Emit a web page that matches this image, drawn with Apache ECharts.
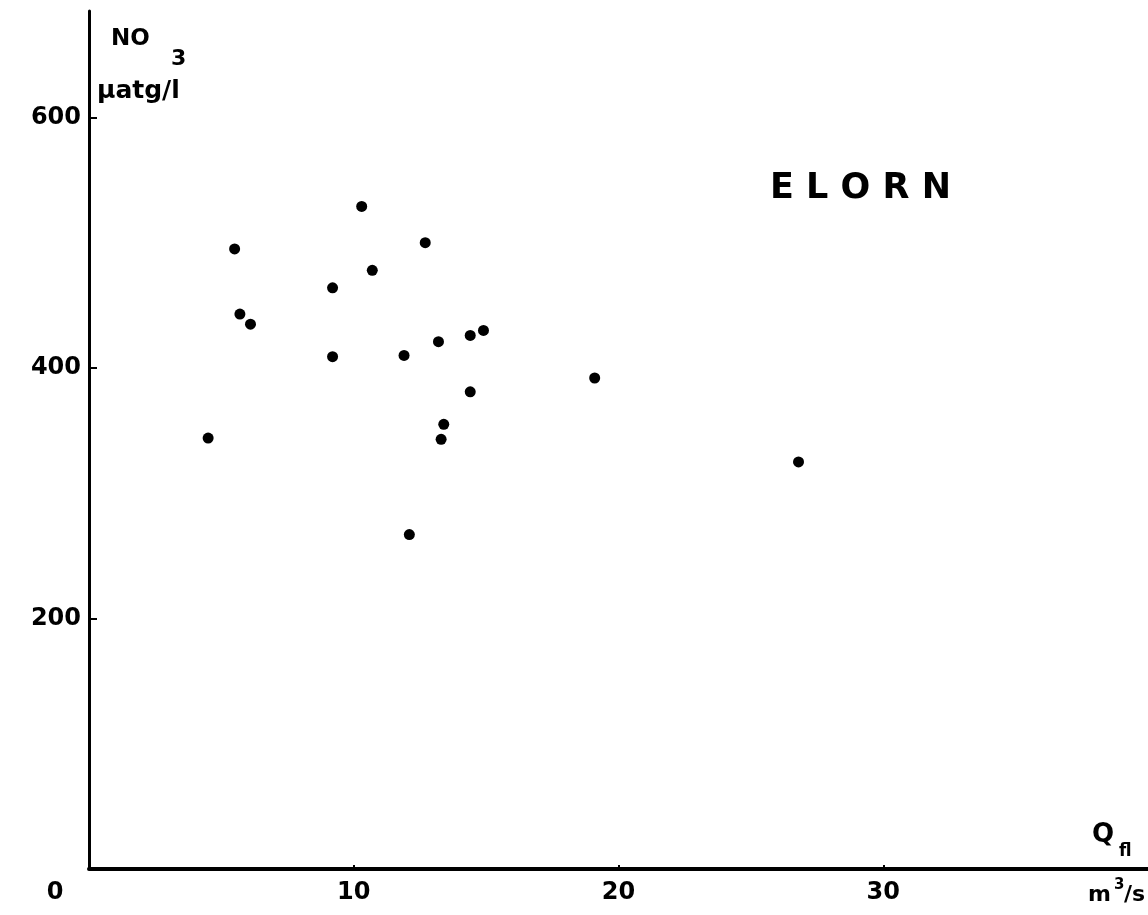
<!DOCTYPE html>
<html>
<head>
<meta charset="utf-8">
<title>ELORN NO3</title>
<script src="https://cdn.jsdelivr.net/npm/echarts@6/dist/echarts.min.js"></script>
<style>
  html, body { margin: 0; padding: 0; background: #fff; }
  #main { width: 1148px; height: 915px; }
</style>
</head>
<body>
<div id="main"></div>
<script>
// débit fluvial Q (m3/s) et NO3 (µatg/l)
var flowQ   = [5.5, 12.7, 10.7, 9.2, 5.7, 6.1, 9.2, 11.9, 13.2, 14.4, 14.9, 14.4, 13.4, 13.3, 4.5, 10.3, 19.1, 26.8, 12.1];
var nitrate = [495, 500, 478, 464, 443, 435, 409, 410, 421, 426, 430, 381, 355, 343, 344, 529, 392, 325, 267];

var xTicks = [0, 10, 20, 30];
var yTicks = [200, 400, 600];

var FONT = 'DejaVu Sans';

var points = flowQ.map(function (q, i) { return [q, nitrate[i]]; });

var chart = echarts.init(document.getElementById('main'));

function txt(s, x, y, size) {
  return {
    type: 'text', left: x, top: y,
    style: { text: s, font: 'bold ' + size + 'px "DejaVu Sans"', fill: '#000' }
  };
}

chart.setOption({
  backgroundColor: '#fff',
  animation: false,
  grid: { left: 89, right: 0, top: 11, bottom: 46 },
  xAxis: {
    type: 'value', min: 0, max: 40, interval: 10,
    splitLine: { show: false },
    axisLine: { lineStyle: { color: '#000', width: 4 } },
    axisTick: { inside: true, length: 4, lineStyle: { color: '#000', width: 2 } },
    axisLabel: {
      showMaxLabel: false,
      margin: 12,
      color: '#000', fontFamily: FONT, fontWeight: 'bold', fontSize: 24,
      formatter: function (v) {
        if (xTicks.indexOf(v) < 0) return '';
        return v === 0 ? '{z|0}' : String(v);
      },
      rich: { z: { color: '#000', fontFamily: FONT, fontWeight: 'bold', fontSize: 24, padding: [0, 68, 0, 0] } }
    }
  },
  yAxis: {
    type: 'value', min: 0, max: 685, interval: 200,
    splitLine: { show: false },
    axisLine: { lineStyle: { color: '#000', width: 3 } },
    axisTick: { inside: true, length: 8, lineStyle: { color: '#000', width: 2 } },
    axisLabel: {
      showMinLabel: false, showMaxLabel: false,
      margin: 8,
      color: '#000', fontFamily: FONT, fontWeight: 'bold', fontSize: 24,
      formatter: function (v) { return yTicks.indexOf(v) < 0 ? '' : String(v); }
    }
  },
  series: [{
    type: 'scatter',
    data: points,
    symbol: 'circle',
    symbolSize: 11,
    itemStyle: { color: '#000', opacity: 1 }
  }],
  graphic: [
    txt('NO', 111, 28, 23),
    txt('3', 171, 48, 22),
    txt('µatg/l', 97, 79, 25),
    txt('E L O R N', 770, 171, 35),
    txt('Q', 1092, 822, 26),
    txt('fl', 1119, 843, 17),
    txt('m', 1088, 884, 22),
    txt('3', 1114, 878, 15),
    txt('/s', 1124, 884, 22)
  ]
});
</script>
</body>
</html>
